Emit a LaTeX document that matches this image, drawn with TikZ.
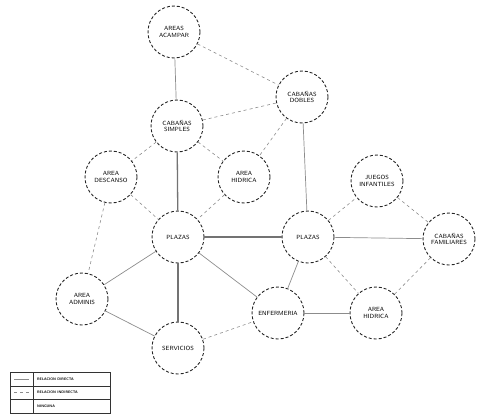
\documentclass[tikz,border=0pt]{standalone}
\usepackage{tikz}
\usetikzlibrary{positioning,calc}
\tikzset{  zona/.style={draw=black!85,densely dashed,line width=0.9pt,circle,minimum size=52pt,inner sep=0pt,align=center,font=\sffamily\fontsize{6}{6.5}\selectfont} }
\tikzset{  directa/.style={draw=black!45,line width=0.7pt},
  fuerte/.style={draw=black!55,line width=1.3pt},
  indirecta/.style={draw=black!45,dashed,line width=0.6pt} }
\newcommand{\txt}[2]{#1\\#2}

\begin{document}
\begin{tikzpicture}[x=1pt,y=-1pt]
   \useasboundingbox (0,0) rectangle (486,417);
   \node[zona] (acampar) at (174,32) {\txt{AREAS}{ACAMPAR}};
   \node[zona] (dobles) at (302,97) {\txt{CABAÑAS}{DOBLES}};
   \node[zona] (simples) at (177,126) {\txt{CABAÑAS}{SIMPLES}};
   \node[zona] (descanso) at (111,177) {\txt{AREA}{DESCANSO}};
   \node[zona] (hidricaA) at (244,177) {\txt{AREA}{HIDRICA}};
   \node[zona] (juegos) at (377,181) {\txt{JUEGOS}{INFANTILES}};
   \node[zona] (familiar) at (449,239) {\txt{CABAÑAS}{FAMILIARES}};
   \node[zona] (plazaA) at (178,237) {PLAZAS};
   \node[zona] (plazaB) at (308,237) {PLAZAS};
   \node[zona] (admin) at (82,299) {\txt{AREA}{ADMINIS}};
   \node[zona] (enfermeria) at (278,313) {ENFERMERIA};
   \node[zona] (hidricaB) at (376,313) {\txt{AREA}{HIDRICA}};
   \node[zona] (servicios) at (178,348) {SERVICIOS};
   % relaciones directas
   \draw[directa] (acampar) -- (simples);
   \draw[fuerte] (simples) -- (plazaA);
   \draw[directa] (dobles) -- (plazaB);
   \draw[fuerte] (plazaA) -- (plazaB);
   \draw[fuerte] (plazaA) -- (servicios);
   \draw[directa] (plazaA) -- (admin);
   \draw[directa] (plazaA) -- (enfermeria);
   \draw[directa] (admin) -- (servicios);
   \draw[directa] (enfermeria) -- (plazaB);
   \draw[directa] (enfermeria) -- (hidricaB);
   \draw[directa] (plazaB) -- (familiar);
   % relaciones indirectas
   \draw[indirecta] (acampar) -- (dobles);
   \draw[indirecta] (simples) -- (dobles);
   \draw[indirecta] (simples) -- (hidricaA);
   \draw[indirecta] (simples) -- (descanso);
   \draw[indirecta] (dobles) -- (hidricaA);
   \draw[indirecta] (descanso) -- (plazaA);
   \draw[indirecta] (hidricaA) -- (plazaA);
   \draw[indirecta] (descanso) -- (admin);
   \draw[indirecta] (servicios) -- (enfermeria);
   \draw[indirecta] (plazaB) -- (juegos);
   \draw[indirecta] (plazaB) -- (hidricaB);
   \draw[indirecta] (juegos) -- (familiar);
   \draw[indirecta] (familiar) -- (hidricaB);
   % leyenda
   \draw[black!80,line width=0.7pt] (10,372) rectangle (110,413);
   \draw[black!80,line width=0.6pt] (10,386) -- (110,386) (10,399) -- (110,399) (33,372) -- (33,413);
   \draw[directa] (14,379) -- (29,379);
   \draw[indirecta] (14,392.5) -- (29,392.5);
   \node[right,inner sep=0pt,font=\sffamily\bfseries\fontsize{3.6}{4}\selectfont] (ldirecta) at (37,379) {RELACION DIRECTA};
   \node[right,inner sep=0pt,font=\sffamily\bfseries\fontsize{3.6}{4}\selectfont] (lindirecta) at (37,392.5) {RELACION INDIRECTA};
   \node[right,inner sep=0pt,font=\sffamily\bfseries\fontsize{3.6}{4}\selectfont] (lninguna) at (37,406) {NINGUNA};
  \end{tikzpicture}
\end{document}
